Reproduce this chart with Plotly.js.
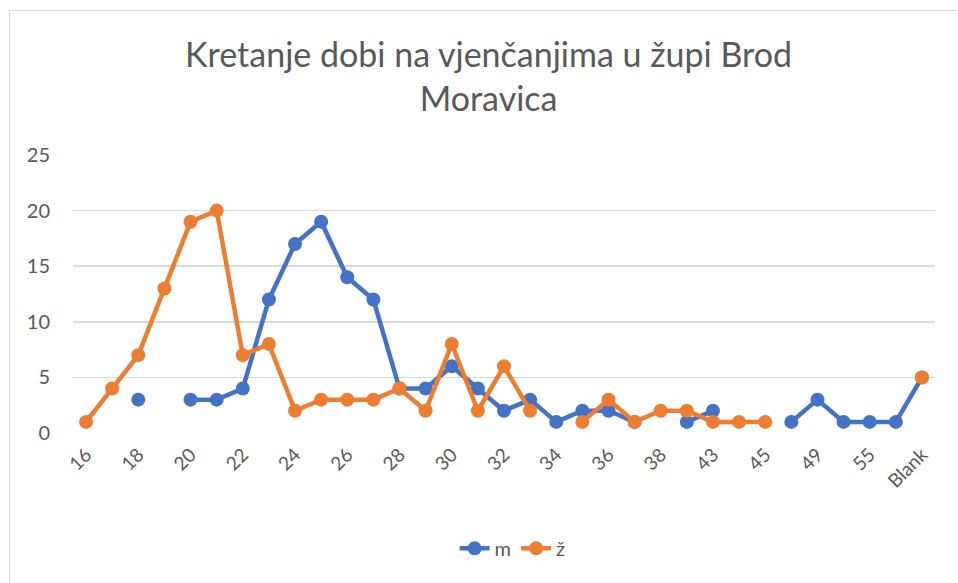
<!DOCTYPE html>
<html>
<head>
<meta charset="utf-8">
<script src="https://cdn.plot.ly/plotly-3.0.1.min.js"></script>
<style>
html,body{margin:0;padding:0;overflow:hidden;background:#fff;}
#wrap{position:relative;width:958px;height:583px;overflow:hidden;}
#frame{position:absolute;left:9px;top:10px;width:1200px;height:1200px;border:1.5px solid #d9d9d9;box-sizing:border-box;pointer-events:none;z-index:2;}
#chart{position:absolute;left:0;top:0;width:958px;height:583px;}
</style>
</head>
<body>
<div id="wrap"><div id="chart"></div><div id="frame"></div></div>
<script>
// Age categories (every other one is labelled on the axis)
const categories = ["16","17","18","19","20","21","22","23","24","25","26","27","28","29","30","31","32","33","34","35","36","37","38","40","43","44","45","47","49","52","55","58","Blank"];
const tickLabels = ["16","18","20","22","24","26","28","30","32","34","36","38","43","45","49","55","Blank"];
// m (men)
const mValues = [null,null,3,null,3,3,4,12,17,19,14,12,4,4,6,4,2,3,1,2,2,1,null,1,2,null,null,1,3,1,1,1,5];
// ž (women)
const zValues = [1,4,7,13,19,20,7,8,2,3,3,3,4,2,8,2,6,2,null,1,3,1,2,2,1,1,1,null,null,null,null,null,5];

const FONT = "Lato, 'Open Sans', sans-serif";
const traces = [
  {x: categories, y: mValues, name: "m", type: "scatter", mode: "lines+markers",
   connectgaps: false, line: {color: "#4472C4", width: 4.5}, marker: {color: "#4472C4", size: 14}},
  {x: categories, y: zValues, name: "ž", type: "scatter", mode: "lines+markers",
   connectgaps: false, line: {color: "#ED7D31", width: 4.5}, marker: {color: "#ED7D31", size: 14}}
];
const layout = {
  width: 958, height: 583,
  margin: {l: 73, r: 23, t: 155, b: 150},
  paper_bgcolor: "#ffffff", plot_bgcolor: "#ffffff",
  font: {family: FONT, color: "#595959"},
  title: {text: "Kretanje dobi na vjenčanjima u župi Brod<br>Moravica",
          font: {family: FONT, size: 34, color: "#595959"},
          x: 0.51, xref: "container", xanchor: "center",
          y: 0.885, yref: "container", yanchor: "top"},
  xaxis: {type: "category", tickmode: "array", tickvals: tickLabels, ticktext: tickLabels,
          range: [-0.5, categories.length - 0.5],
          tickangle: -45, tickfont: {size: 19, color: "#595959"},
          showgrid: false, zeroline: false, showline: false, ticks: "", ticklabelstandoff: 6},
  yaxis: {range: [0, 25], dtick: 5, tick0: 0, tickfont: {size: 20, color: "#595959"},
          gridcolor: "#d9d9d9", gridwidth: 1.5, zeroline: false, showline: false,
          ticks: "", ticklen: 0, automargin: false, ticklabelstandoff: 22},
  showlegend: true,
  legend: {orientation: "h", x: 0.51, xanchor: "center", xref: "paper", y: -0.415, yanchor: "middle",
           font: {size: 20, color: "#595959"}, itemwidth: 30},
  hovermode: false
};
Plotly.newPlot("chart", traces, layout, {displayModeBar: false, staticPlot: true});
</script>
</body>
</html>
